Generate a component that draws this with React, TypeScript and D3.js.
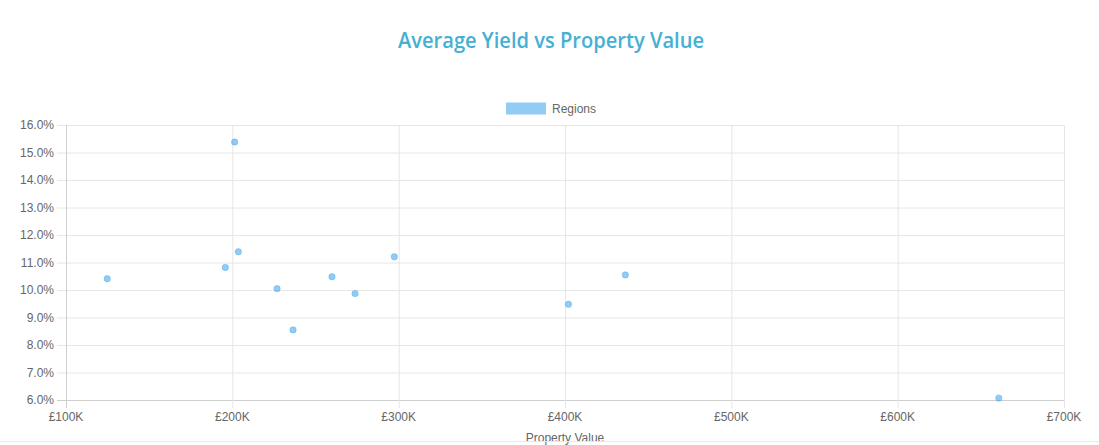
import React, { useEffect, useRef } from 'react';
import * as d3 from 'd3';

// property value in £K, average yield in %
const propertyValues = [124.8, 201.4, 203.6, 195.8, 226.9, 236.5, 259.9, 273.8, 297.4, 402.1, 436.3, 660.8];
const yields = [10.41, 15.38, 11.39, 10.82, 10.05, 8.55, 10.48, 9.87, 11.21, 9.48, 10.55, 6.07];
const xTicks = [100, 200, 300, 400, 500, 600, 700];
const yTicks = [6, 7, 8, 9, 10, 11, 12, 13, 14, 15, 16];

const width = 1099;
const height = 445;
const margin = { left: 66, right: 35, top: 125, bottom: 45 };

const font = '"Liberation Sans", Arial, sans-serif';
const gridColor = '#e6e6e6';
const axisColor = '#cfcfcf';
const textColor = '#666';

const App: React.FC = () => {
  const svgRef = useRef(null);

  useEffect(() => {
    if (svgRef.current === null) {
      return;
    }
    const svg = d3.select(svgRef.current);
    svg.selectAll('*').remove();

    const x = d3.scaleLinear().domain([100, 700]).range([margin.left, width - margin.right]);
    const y = d3.scaleLinear().domain([6, 16]).range([height - margin.bottom, margin.top]);

    // title
    svg
      .append('text')
      .attr('x', 551)
      .attr('y', 48)
      .attr('text-anchor', 'middle')
      .attr('textLength', 306)
      .attr('lengthAdjust', 'spacingAndGlyphs')
      .style('font', '600 22px "Open Sans", "Noto Sans", sans-serif')
      .style('fill', '#45b0d3')
      .text('Average Yield vs Property Value');

    // legend
    svg
      .append('rect')
      .attr('x', 506)
      .attr('y', 102.5)
      .attr('width', 40)
      .attr('height', 12)
      .attr('fill', 'rgba(54,162,235,0.55)');
    svg
      .append('text')
      .attr('x', 552)
      .attr('y', 112.5)
      .style('font', `12px ${font}`)
      .style('fill', textColor)
      .text('Regions');

    // gridlines
    const grid = svg.append('g');
    grid
      .selectAll('line.h')
      .data(yTicks)
      .join('line')
      .attr('x1', margin.left - 9)
      .attr('x2', width - margin.right)
      .attr('y1', (d) => y(d) + 0.5)
      .attr('y2', (d) => y(d) + 0.5)
      .attr('stroke', (d) => (d === 6 ? axisColor : gridColor));
    grid
      .selectAll('line.v')
      .data(xTicks)
      .join('line')
      .attr('x1', (d) => x(d) + 0.5)
      .attr('x2', (d) => x(d) + 0.5)
      .attr('y1', margin.top)
      .attr('y2', height - margin.bottom + 8)
      .attr('stroke', (d) => (d === 100 ? axisColor : gridColor));

    // y tick labels
    svg
      .append('g')
      .selectAll('text')
      .data(yTicks)
      .join('text')
      .attr('x', margin.left - 12)
      .attr('y', (d) => y(d) + 4)
      .attr('text-anchor', 'end')
      .style('font', `12px ${font}`)
      .style('fill', textColor)
      .text((d) => `${d.toFixed(1)}%`);

    // x tick labels
    svg
      .append('g')
      .selectAll('text')
      .data(xTicks)
      .join('text')
      .attr('x', (d) => x(d))
      .attr('y', 421)
      .attr('text-anchor', 'middle')
      .style('font', `12px ${font}`)
      .style('fill', textColor)
      .text((d) => `£${d}K`);

    // x axis title
    svg
      .append('text')
      .attr('x', 565)
      .attr('y', 442)
      .attr('text-anchor', 'middle')
      .style('font', `12px ${font}`)
      .style('fill', textColor)
      .text('Property Value');

    // bottom border of the container
    svg
      .append('line')
      .attr('x1', 0)
      .attr('x2', width)
      .attr('y1', 441.5)
      .attr('y2', 441.5)
      .attr('stroke', '#e8e8e8');

    // points
    svg
      .append('g')
      .selectAll('circle')
      .data(propertyValues.map((v, i) => [v, yields[i]]))
      .join('circle')
      .attr('cx', (d) => x(d[0]))
      .attr('cy', (d) => y(d[1]))
      .attr('r', 3.2)
      .attr('fill', 'rgba(54,162,235,0.55)')
      .attr('stroke', 'rgba(54,162,235,0.35)')
      .attr('stroke-width', 1);
  }, []);

  return (
    <div style={{ position: 'absolute', left: 0, top: 0 }}>
      <svg ref={svgRef} width={width} height={height} style={{ display: 'block' }}></svg>
    </div>
  );
};

export default App;
